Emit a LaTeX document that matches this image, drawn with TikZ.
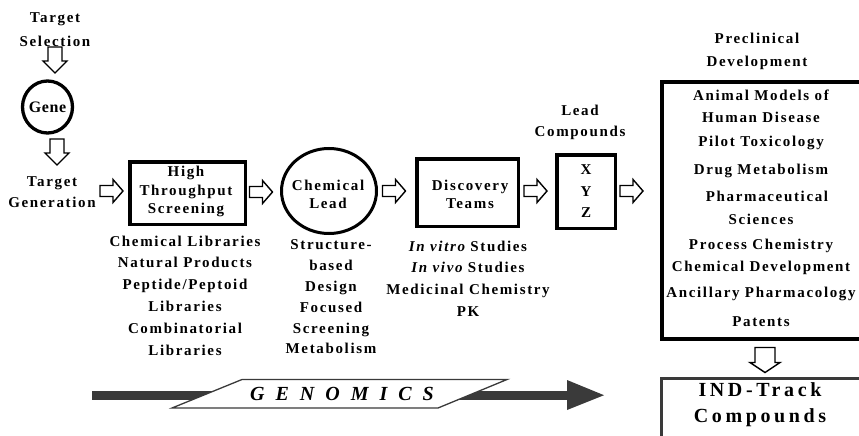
\documentclass[tikz,border=0pt]{standalone}
\usepackage{fontspec}
\setmainfont{Liberation Serif}
\newfontfamily\lbf[LetterSpace=11]{Liberation Serif}
\newfontfamily\genf[LetterSpace=4]{Liberation Serif}
\newfontfamily\bigf[LetterSpace=18]{Liberation Serif}
\newfontfamily\gnf[LetterSpace=55]{Liberation Serif}
\usetikzlibrary{shapes.geometric}
\definecolor{dkg}{HTML}{3A3A3A}
\begin{document}
\begin{tikzpicture}[x=1pt,y=-1pt,
  lbl/.style={font=\lbf\bfseries\fontsize{15}{18.5}\selectfont, inner sep=0pt, align=center},
  lst/.style={font=\lbf\bfseries\fontsize{15}{21.8}\selectfont, inner sep=0pt, align=center},
  boxst/.style={draw, line width=3.5pt, rectangle, inner sep=0pt, fill=white},
  ovalst/.style={draw, line width=3pt, ellipse, inner sep=0pt},
  blk/.style={draw=black, fill=white, line width=1.4pt, line join=miter},
  rarr/.pic={\draw[blk] (-11.5,-5.5) -- (1.5,-5.5) -- (1.5,-11.5) -- (11.5,0) -- (1.5,11.5) -- (1.5,5.5) -- (-11.5,5.5) -- cycle;},
  darr/.pic={\draw[blk] (-7,-13) -- (7,-13) -- (7,1) -- (12,1) -- (0,13) -- (-12,1) -- (-7,1) -- cycle;},
  darrbig/.pic={\draw[blk] (-10,-12.5) -- (10,-12.5) -- (10,2.5) -- (15,2.5) -- (0,12.5) -- (-15,2.5) -- (-10,2.5) -- cycle;}
]
\useasboundingbox (0,0) rectangle (859,436);
\clip (0,0) rectangle (859,436);

% left column
\node[lbl, font=\lbf\bfseries\fontsize{15}{24}\selectfont] (tsel) at (55,30) {Target\\Selection};
\pic at (55,60) {darr};
\node[ovalst, line width=3.3pt, minimum width=50pt, minimum height=52pt] (gene) at (47.5,107) {};
\node[inner sep=0pt, font=\genf\bfseries\fontsize{16}{16}\selectfont] (genet) at (gene) {Gene};
\pic at (57,152) {darr};
\node[lbl, font=\lbf\bfseries\fontsize{15}{21}\selectfont] (tgen) at (52,192.5) {Target\\Generation};

% flow
\pic at (111.5,191) {rarr};
\node[boxst, minimum width=115.5pt, minimum height=62.5pt] (hts) at (187.5,193) {};
\node[lbl] (htst) at (186,191.5) {High\\Throughput\\Screening};
\node[lst] (htslist) at (185,295.5) {Chemical Libraries\\Natural Products\\Peptide/Peptoid\\Libraries\\Combinatorial\\Libraries};

\pic at (261,192) {rarr};
\node[ovalst, minimum width=95pt, minimum height=85pt] (lead) at (329,191) {};
\node[lbl, font=\lbf\bfseries\fontsize{15}{18}\selectfont] (leadt) at (328,194) {Chemical\\Lead};
\node[lst, font=\lbf\bfseries\fontsize{15}{20.8}\selectfont] (leadlist) at (331,297) {Structure-\\based\\Design\\Focused\\Screening\\Metabolism};

\pic at (394,191) {rarr};
\node[boxst, minimum width=101.5pt, minimum height=67.5pt] (disc) at (467.5,192.5) {};
\node[lbl, font=\lbf\bfseries\fontsize{15}{18}\selectfont] (disct) at (470,194) {Discovery\\Teams};
\node[lst] (disclist) at (468,278.5) {{\itshape In vitro} Studies\\{\itshape In vivo} Studies\\Medicinal Chemistry\\PK};

\pic at (535.5,191) {rarr};
\node[lbl, font=\lbf\bfseries\fontsize{15}{21}\selectfont] (lc) at (580,122.5) {Lead\\Compounds};
\node[boxst, minimum width=58.5pt, minimum height=73.5pt] (xyz) at (586,191.5) {};
\node[lbl, font=\lbf\bfseries\fontsize{15}{21.5}\selectfont] (xyzt) at (586,191.5) {X\\Y\\Z};

\pic at (631.5,191) {rarr};
\node[lbl, font=\lbf\bfseries\fontsize{15}{23}\selectfont] (pdt) at (757,51.5) {Preclinical\\Development};
\node[boxst, line width=4pt, anchor=north west, minimum width=240pt, minimum height=257pt] (pre) at (660,80) {};
\node[lbl, font=\lbf\bfseries\fontsize{15}{22}\selectfont] (prelist) at (761,208) {Animal Models of\\Human Disease\\[2pt]Pilot Toxicology\\[6pt]Drug Metabolism\\[5pt]\hspace*{12pt}Pharmaceutical\\[1pt]Sciences\\[3pt]Process Chemistry\\[0pt]Chemical Development\\[4pt]Ancillary Pharmacology\\[7pt]Patents};

\pic at (765,360) {darrbig};
\node[draw=dkg, line width=3pt, anchor=north west, minimum width=250pt, minimum height=100pt] (ind) at (659.5,376.5) {};
\node[inner sep=0pt, align=center, font=\bigf\bfseries\fontsize{20}{26}\selectfont] (indt) at (760,405) {IND-Track\\Compounds};

% genomics arrow
\fill[dkg] (92,390.5) rectangle (567,399.5);
\fill[dkg] (567,380) -- (604,395.2) -- (567,410) -- cycle;
\filldraw[fill=white, draw=dkg, line width=1.3pt] (172,408) -- (242,379.5) -- (507,379.5) -- (438,408) -- cycle;
\node[inner sep=0pt, font=\gnf\bfseries\itshape\fontsize{20}{20}\selectfont] (gen) at (342,394) {GENOMICS};
\end{tikzpicture}
\end{document}
